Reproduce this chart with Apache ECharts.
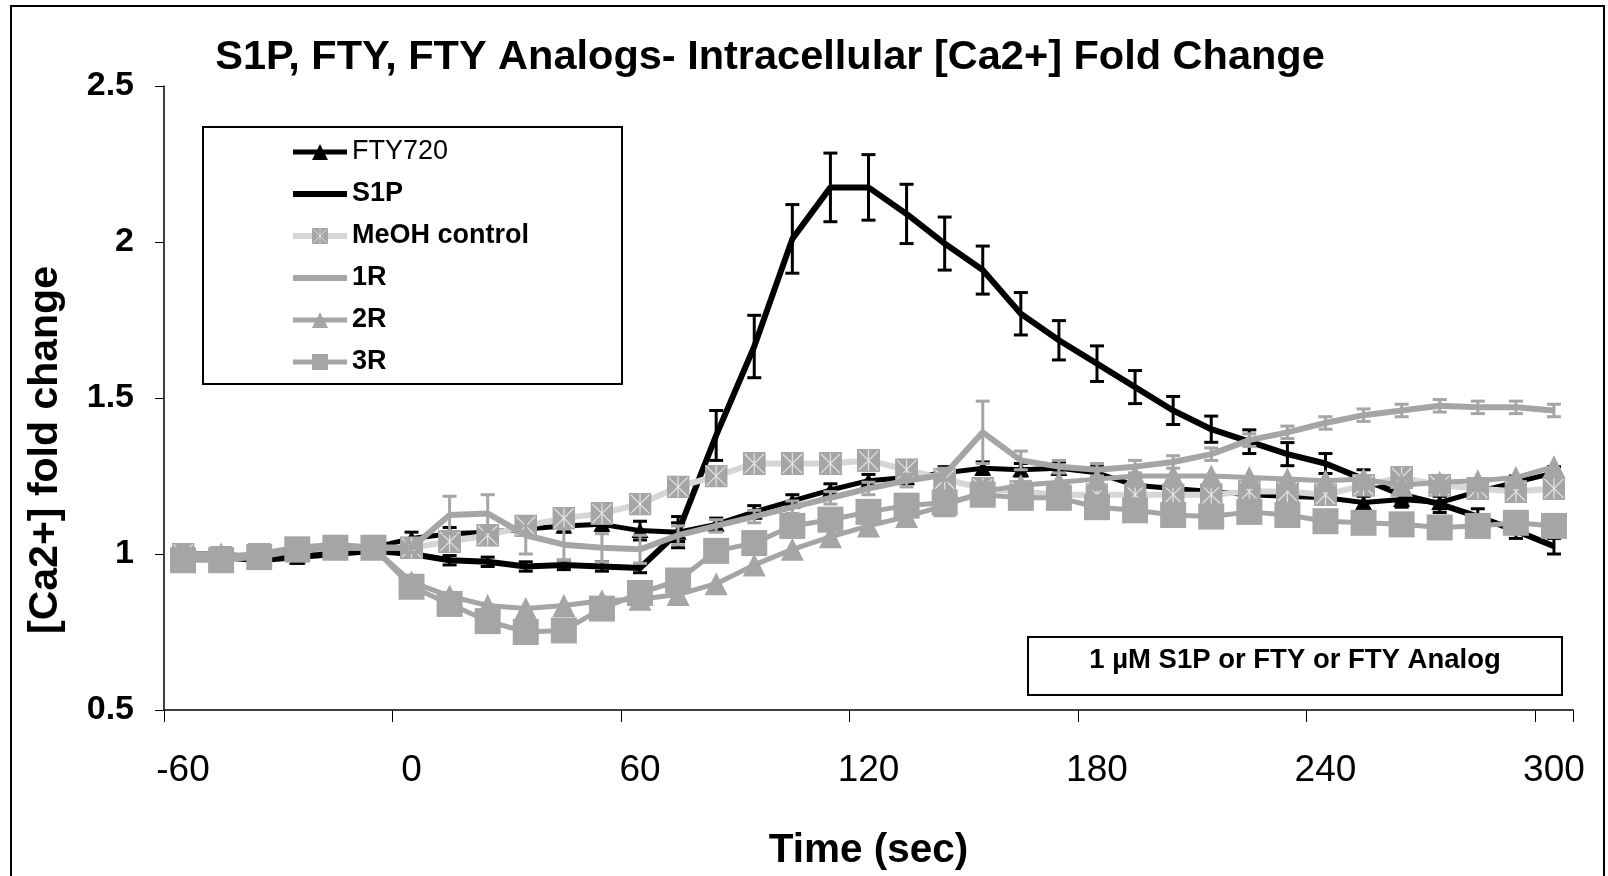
<!DOCTYPE html>
<html lang="en">
<head>
<meta charset="UTF-8">
<title>S1P, FTY, FTY Analogs- Intracellular [Ca2+] Fold Change</title>
<script src="https://cdn.jsdelivr.net/npm/echarts@6.0.0/dist/echarts.min.js"></script>
<style>
  html, body { margin: 0; padding: 0; background: #fff; }
  #main { width: 1608px; height: 876px; }
</style>
</head>
<body>
<div id="main"></div>
<script>
// time points (sec), one category each
var times = ['-60', '-50', '-40', '-30', '-20', '-10', '0', '10', '20', '30', '40', '50',
  '60', '70', '80', '90', '100', '110', '120', '130', '140', '150', '160', '170',
  '180', '190', '200', '210', '220', '230', '240', '250', '260', '270', '280', '290', '300'];

var fty720 = [1.00, 1.00, 0.99, 0.99, 1.01, 1.02, 1.05, 1.065, 1.07, 1.08, 1.09, 1.095,
  1.075, 1.07, 1.095, 1.135, 1.17, 1.205, 1.235, 1.245, 1.26, 1.275, 1.27, 1.275,
  1.26, 1.22, 1.21, 1.20, 1.19, 1.185, 1.18, 1.165, 1.175, 1.165, 1.20, 1.23, 1.26];
var fty720Err = [0.02, 0.02, 0.02, 0.02, 0.02, 0.02, 0.02, 0.02, 0.02, 0.02, 0.02, 0.02,
  0.03, 0.03, 0.02, 0.02, 0.02, 0.02, 0.02, 0.02, 0.02, 0.02, 0.02, 0.02,
  0.02, 0.02, 0.02, 0.02, 0.02, 0.02, 0.02, 0.02, 0.025, 0.02, 0.02, 0.02, 0.02];

var s1p = [0.99, 0.99, 0.98, 0.99, 1.00, 1.01, 1.00, 0.98, 0.975, 0.96, 0.965, 0.96,
  0.955, 1.07, 1.38, 1.665, 2.01, 2.175, 2.175, 2.09, 1.995, 1.91, 1.77, 1.685,
  1.61, 1.535, 1.46, 1.40, 1.36, 1.32, 1.29, 1.24, 1.19, 1.16, 1.12, 1.075, 1.025];
var s1pErr = [0.01, 0.01, 0.01, 0.01, 0.01, 0.01, 0.01, 0.015, 0.015, 0.015, 0.015, 0.015,
  0.015, 0.05, 0.08, 0.10, 0.11, 0.11, 0.105, 0.095, 0.085, 0.077, 0.068, 0.063,
  0.057, 0.053, 0.045, 0.042, 0.038, 0.037, 0.032, 0.03, 0.03, 0.027, 0.025, 0.025, 0.025];

var meoh = [1.00, 0.99, 1.00, 1.01, 1.02, 1.02, 1.02, 1.04, 1.06, 1.09, 1.115, 1.13,
  1.16, 1.215, 1.25, 1.29, 1.29, 1.29, 1.30, 1.27, 1.24, 1.21, 1.20, 1.19,
  1.19, 1.19, 1.19, 1.19, 1.20, 1.20, 1.19, 1.22, 1.245, 1.22, 1.21, 1.20, 1.21];

var r1 = [0.99, 0.99, 1.00, 1.02, 1.03, 1.02, 1.02, 1.125, 1.13, 1.06, 1.03, 1.02,
  1.015, 1.06, 1.09, 1.12, 1.15, 1.18, 1.21, 1.235, 1.255, 1.39, 1.30, 1.28,
  1.27, 1.28, 1.295, 1.32, 1.365, 1.39, 1.42, 1.445, 1.46, 1.475, 1.47, 1.47, 1.46];
var r1Err = [0.015, 0.015, 0.015, 0.015, 0.015, 0.015, 0.015, 0.06, 0.06, 0.06, 0.05, 0.045,
  0.045, 0.03, 0.02, 0.02, 0.02, 0.02, 0.02, 0.02, 0.02, 0.10, 0.03, 0.02,
  0.02, 0.02, 0.02, 0.02, 0.02, 0.02, 0.02, 0.02, 0.02, 0.02, 0.02, 0.02, 0.02];

var r2 = [1.00, 1.00, 0.99, 1.01, 1.02, 1.02, 0.91, 0.865, 0.835, 0.825, 0.835, 0.85,
  0.855, 0.87, 0.905, 0.965, 1.015, 1.055, 1.09, 1.12, 1.155, 1.20, 1.22, 1.23,
  1.24, 1.25, 1.25, 1.25, 1.245, 1.24, 1.235, 1.24, 1.22, 1.23, 1.235, 1.245, 1.28];

var r3 = [0.98, 0.98, 0.99, 1.015, 1.02, 1.02, 0.895, 0.84, 0.785, 0.75, 0.755, 0.825,
  0.875, 0.915, 1.01, 1.035, 1.09, 1.11, 1.135, 1.155, 1.165, 1.19, 1.18, 1.18,
  1.15, 1.14, 1.125, 1.12, 1.135, 1.125, 1.105, 1.10, 1.095, 1.085, 1.09, 1.10, 1.09];

var yTicks = [0.5, 1, 1.5, 2, 2.5];

var GRAY = '#a5a5a5';
var LIGHT = '#d6d6d6';
var FONT = 'Liberation Sans, Arial, sans-serif';

// grey square with a light cross, like the Excel marker
var meohSvg = '<svg xmlns="http://www.w3.org/2000/svg" width="24" height="24" viewBox="0 0 24 24">' +
  '<rect width="24" height="24" fill="' + GRAY + '"/>' +
  '<path d="M2 2L22 22M22 2L2 22M12 1V23" stroke="#e2e2e2" stroke-width="1.3" fill="none"/></svg>';
var meohSymbol = 'image://data:image/svg+xml;charset=utf-8,' + encodeURIComponent(meohSvg);

function errorBars(values, errs, color, z) {
  return {
    type: 'custom',
    z: z,
    silent: true,
    animation: false,
    data: values.map(function (v, i) { return [i, v - errs[i], v + errs[i]]; }),
    encode: { x: 0, y: [1, 2] },
    renderItem: function (params, api) {
      var lo = api.coord([api.value(0), api.value(1)]);
      var hi = api.coord([api.value(0), api.value(2)]);
      var half = 7;
      var st = { stroke: color, lineWidth: 3 };
      return {
        type: 'group',
        children: [
          { type: 'line', shape: { x1: lo[0], y1: lo[1], x2: hi[0], y2: hi[1] }, style: st },
          { type: 'line', shape: { x1: lo[0] - half, y1: lo[1], x2: lo[0] + half, y2: lo[1] }, style: st },
          { type: 'line', shape: { x1: hi[0] - half, y1: hi[1], x2: hi[0] + half, y2: hi[1] }, style: st }
        ]
      };
    }
  };
}

var chart = echarts.init(document.getElementById('main'));

var noMarker = { color: 'rgba(0,0,0,0)', borderWidth: 0, opacity: 0 };

var option = {
  animation: false,
  backgroundColor: '#fff',
  grid: { left: 164, right: 35, top: 86, bottom: 165 },
  legend: {
    orient: 'vertical',
    left: 290,
    top: 138,
    itemWidth: 54,
    itemHeight: 20,
    itemGap: 14,
    padding: 0,
    lineStyle: { width: 'inherit' },
    textStyle: { fontFamily: FONT, fontSize: 27, fontWeight: 'bold', color: '#000', lineHeight: 28 },
    data: [
      { name: 'FTY720', textStyle: { fontWeight: 'normal' } },
      { name: 'S1P', itemStyle: noMarker },
      'MeOH control',
      { name: '1R', itemStyle: noMarker },
      '2R', '3R'
    ]
  },
  xAxis: {
    type: 'category',
    data: times,
    boundaryGap: true,
    axisLine: { lineStyle: { color: '#000', width: 1.5 } },
    axisTick: { show: true, interval: 5, length: 12, lineStyle: { color: '#000', width: 1 } },
    axisLabel: { interval: 5, margin: 42, fontFamily: FONT, fontSize: 37, color: '#000' },
    splitLine: { show: false },
    name: 'Time (sec)',
    nameLocation: 'middle',
    nameGap: 120,
    nameTextStyle: { fontFamily: FONT, fontSize: 40.5, fontWeight: 'bold', color: '#000' }
  },
  yAxis: {
    type: 'value',
    min: yTicks[0],
    max: yTicks[yTicks.length - 1],
    interval: 0.5,
    axisLine: { show: true, lineStyle: { color: '#000', width: 1.5 } },
    axisTick: { show: true, length: 9, lineStyle: { color: '#000', width: 1 } },
    axisLabel: { margin: 30, fontFamily: FONT, fontSize: 34, fontWeight: 'bold', color: '#000' },
    splitLine: { show: false }
  },
  graphic: [
    { type: 'rect', z: 0, shape: { x: 11, y: 6, width: 1593, height: 900 },
      style: { fill: 'none', stroke: '#000', lineWidth: 2 } },
    { type: 'text', x: 770, y: 58, style: { text: 'S1P, FTY, FTY Analogs- Intracellular [Ca2+] Fold Change',
      font: 'bold 41.5px ' + FONT, fill: '#000', align: 'center', verticalAlign: 'middle' } },
    { type: 'text', x: 46, y: 450, rotation: Math.PI / 2, style: { text: '[Ca2+] fold change',
      font: 'bold 41px ' + FONT, fill: '#000', align: 'center', verticalAlign: 'middle' } },
    { type: 'rect', z: 0, shape: { x: 203, y: 127, width: 419, height: 257 },
      style: { fill: '#fff', stroke: '#000', lineWidth: 2 } },
    { type: 'rect', z: 0, shape: { x: 1028, y: 637, width: 534, height: 58 },
      style: { fill: '#fff', stroke: '#000', lineWidth: 2 } },
    { type: 'text', x: 1295, y: 660, style: { text: '1 µM S1P or FTY or FTY Analog',
      font: 'bold 27.5px ' + FONT, fill: '#000', align: 'center', verticalAlign: 'middle' } }
  ],
  series: [
    { name: 'FTY720', type: 'line', data: fty720, z: 2, symbol: 'triangle', symbolSize: [17, 15],
      showAllSymbol: true, lineStyle: { color: '#000', width: 5 }, itemStyle: { color: '#000' } },
    { name: 'S1P', type: 'line', data: s1p, z: 3, symbol: 'none',
      lineStyle: { color: '#000', width: 6 }, itemStyle: { color: '#000' } },
    { name: 'MeOH control', type: 'line', data: meoh, z: 4, symbol: meohSymbol, symbolSize: 23,
      showAllSymbol: true, lineStyle: { color: LIGHT, width: 6 }, itemStyle: { color: GRAY } },
    { name: '1R', type: 'line', data: r1, z: 5, symbol: 'none',
      lineStyle: { color: GRAY, width: 6 }, itemStyle: { color: GRAY } },
    { name: '2R', type: 'line', data: r2, z: 6, symbol: 'triangle', symbolSize: 23,
      showAllSymbol: true, lineStyle: { color: GRAY, width: 5 }, itemStyle: { color: GRAY } },
    { name: '3R', type: 'line', data: r3, z: 7, symbol: 'rect', symbolSize: 26,
      showAllSymbol: true, lineStyle: { color: GRAY, width: 5 }, itemStyle: { color: GRAY } },
    errorBars(fty720, fty720Err, '#000', 2),
    errorBars(s1p, s1pErr, '#000', 3),
    errorBars(r1, r1Err, GRAY, 5)
  ]
};

chart.setOption(option);
</script>
</body>
</html>
